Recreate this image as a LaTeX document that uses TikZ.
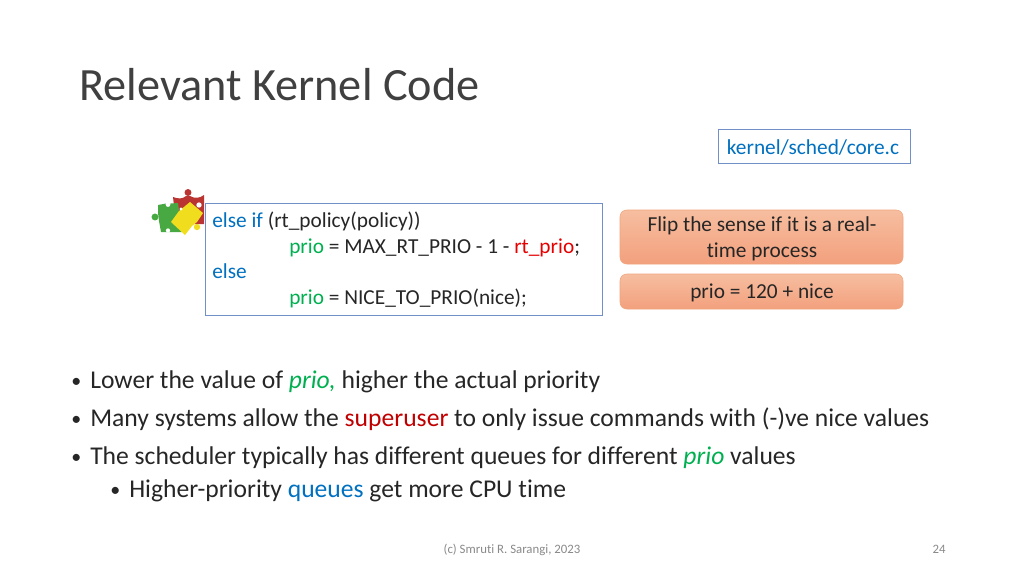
\documentclass[tikz,border=0pt]{standalone}
\usepackage{fontspec}
\setmainfont[Ligatures=NoCommon]{Carlito}
\usepackage{tikz}
\definecolor{boxblue}{RGB}{114,144,200}
\definecolor{kwblue}{RGB}{0,112,192}
\definecolor{kwgreen}{RGB}{0,176,80}
\definecolor{kwred}{RGB}{230,0,0}
\definecolor{deepred}{RGB}{192,0,0}
\definecolor{titlegray}{RGB}{64,64,64}
\definecolor{footgray}{RGB}{137,137,137}
\definecolor{noteline}{RGB}{240,165,125}
\definecolor{notetop}{RGB}{246,190,160}
\definecolor{notebot}{RGB}{243,160,125}
\definecolor{piecered}{RGB}{186,52,50}
\definecolor{piecegreen}{RGB}{72,168,66}
\definecolor{pieceyellow}{RGB}{240,222,30}
\tikzset{
    textline/.style={anchor=base west, inner sep=0pt, font=\fontsize{19.2}{22}\selectfont, text=black!85},
    dotline/.style={anchor=base west, inner sep=0pt, font=\fontsize{15}{18}\selectfont, text=black!85},
    codeline/.style={anchor=base west, inner sep=0pt, font=\fontsize{16}{19}\selectfont, text=black!85},
    notetext/.style={anchor=base, inner sep=0pt, font=\fontsize{16}{19}\selectfont, text=black!85},
    footline/.style={anchor=base, inner sep=0pt, font=\fontsize{9.6}{11}\selectfont, text=footgray},
    outbox/.style={draw=boxblue, line width=0.75pt, fill=white},
    notebox/.style={draw=noteline, line width=0.4pt, rounded corners=5pt, top color=notetop, bottom color=notebot}
}
\begin{document}
\begin{tikzpicture}[x=0.75pt,y=-0.75pt]
    \useasboundingbox (0,0) rectangle (1024,576);

    % Title
    \node[anchor=base west, inner sep=0pt, font=\fontsize{34.7}{40}\selectfont, text=titlegray] (title) at (79,100) {Relevant Kernel Code};

    % File name box
    \draw[outbox] (718,129) rectangle (910,163);
    \node[anchor=base, inner sep=0pt, font=\fontsize{16}{19}\selectfont, text=kwblue] (filename) at (813,154) {kernel/sched/core.c};

    % Puzzle pieces
    \fill[piecered] (173,197) .. controls (178,199) and (183,199) .. (186,196) -- (190,196) .. controls (195,199) and (200,198) .. (204,195) -- (204,224) -- (176,224) -- cycle;
    \fill[piecered] (188,192.5) circle (2.6pt);
    \fill[piecegreen] (158,205) -- (166,203.5) -- (171,203.5) -- (178,203) -- (182,232) -- (172,232) -- (161,232) -- (159,221) -- (158,213) -- cycle;
    \fill[piecegreen] (155,217) circle (2.6pt);
    \fill[white] (168,204.5) circle (1.8pt);
    \fill[white] (168,230.5) circle (1.6pt);
    \fill[pieceyellow] (190,202) -- (203,213) -- (197,222) -- (192,226) -- (185,235) -- (171,222) -- (179,211) -- cycle;
    \fill[pieceyellow] (197,227) circle (2.4pt);
    \fill[white] (199,205) circle (2pt);
    \fill[white] (181,209) circle (1.2pt);

    % Code box
    \draw[outbox] (205,203) rectangle (602,315);
    \node[codeline] (lineone) at (212,227) {\textcolor{kwblue}{else if} (rt\_policy(policy))};
    \node[codeline] (linetwo) at (289,253) {\textcolor{kwgreen}{prio} = MAX\_RT\_PRIO - 1 - \textcolor{kwred}{rt\_prio};};
    \node[codeline] (linethree) at (212,278) {\textcolor{kwblue}{else}};
    \node[codeline] (linefour) at (289,304) {\textcolor{kwgreen}{prio} = NICE\_TO\_PRIO(nice);};

    % Notes on the right
    \draw[notebox] (620,210) rectangle (903,264);
    \node[notetext] (noteone) at (762,231) {Flip the sense if it is a real-};
    \node[notetext] (notetwo) at (762,257) {time process};
    \draw[notebox] (620,274) rectangle (903,309);
    \node[notetext] (notethree) at (762,298) {prio = 120 + nice};

    % Bullets
    \foreach \y/\name in {387/a, 425/b, 463/c} {
        \node[dotline] (bullet\name) at (71,\y) {•};
    }
    \node[dotline] (bulletd) at (110,496) {•};
    \node[textline] (texta) at (90,388) {Lower the value of \textcolor{kwgreen}{\textit{prio,}} higher the actual priority};
    \node[textline] (textb) at (90,426) {Many systems allow the \textcolor{deepred}{superuser} to only issue commands with (-)ve nice values};
    \node[textline] (textc) at (90,464) {The scheduler typically has different queues for different \textcolor{kwgreen}{\textit{prio}} values};
    \node[textline] (textd) at (129,497) {Higher-priority \textcolor{kwblue}{queues} get more CPU time};

    % Footer
    \node[footline] (footer) at (512,553) {(c) Smruti R. Sarangi, 2023};
    \node[footline] (pagenum) at (939,553) {24};
\end{tikzpicture}
\end{document}
